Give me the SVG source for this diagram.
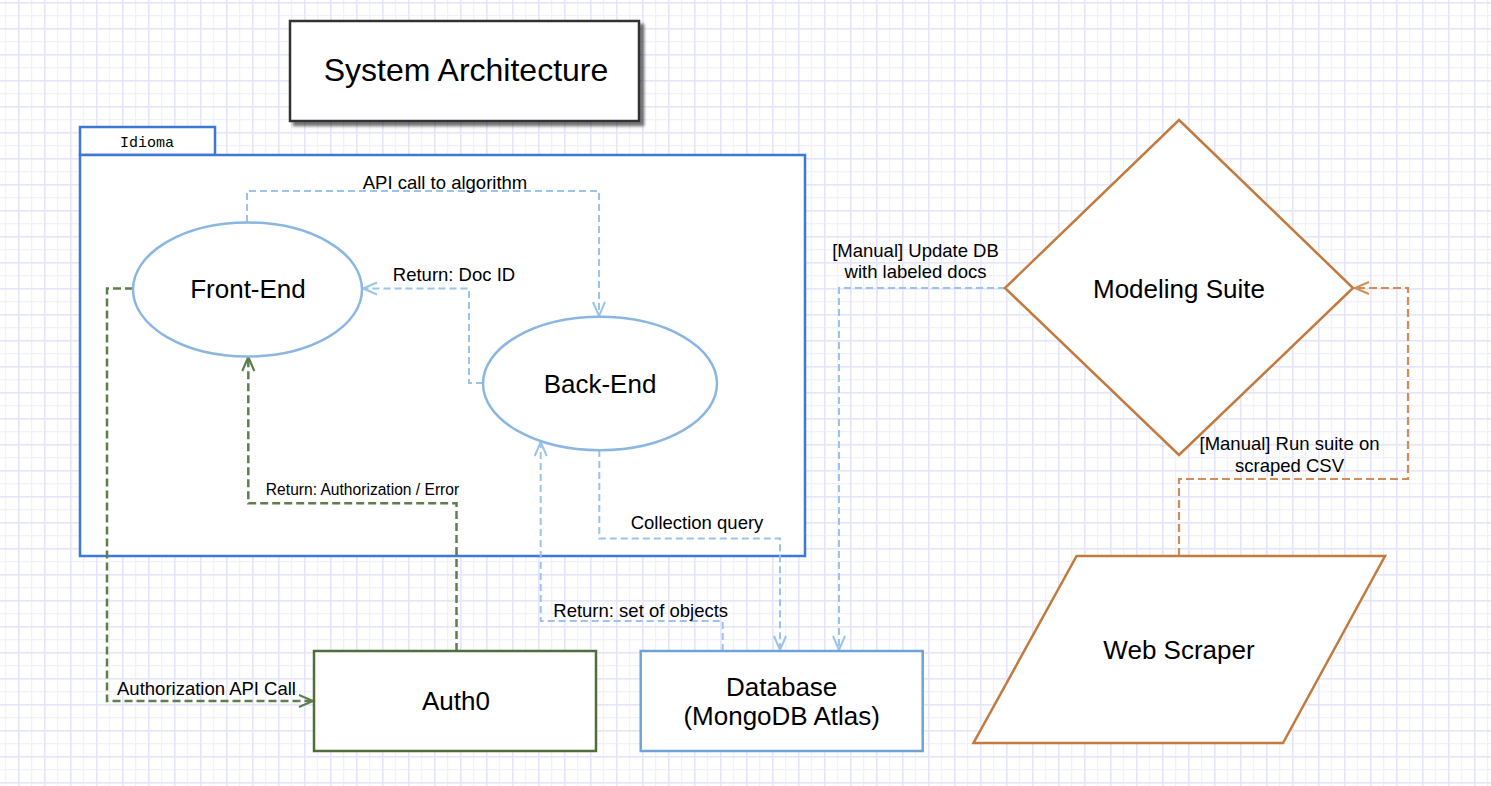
<svg xmlns="http://www.w3.org/2000/svg" width="1491" height="786" viewBox="0 0 1491 786">
<defs>
<pattern id="grid" width="26" height="26" patternUnits="userSpaceOnUse" x="18" y="2">
<rect width="26" height="26" fill="#ffffff"/>
<rect x="13" y="0" width="1.2" height="26" fill="#f1f1fd"/>
<rect x="0" y="13" width="26" height="1.2" fill="#f1f1fd"/>
<rect x="0" y="0" width="1.6" height="26" fill="#e5e5fb"/>
<rect x="0" y="0" width="26" height="1.6" fill="#e5e5fb"/>
</pattern>
<filter id="shadow" x="-10%" y="-10%" width="130%" height="140%">
<feDropShadow dx="4" dy="4" stdDeviation="1.8" flood-color="#000" flood-opacity="0.55"/>
</filter>
<marker id="arrB" markerWidth="18" markerHeight="16" refX="16" refY="8" orient="auto" markerUnits="userSpaceOnUse"><path d="M2,2 L16,8 L2,14" fill="none" stroke="#9cc3ea" stroke-width="2"/></marker>
<marker id="arrG" markerWidth="18" markerHeight="16" refX="16" refY="8" orient="auto" markerUnits="userSpaceOnUse"><path d="M2,2 L16,8 L2,14" fill="none" stroke="#5e7f4c" stroke-width="2.2"/></marker>
<marker id="arrO" markerWidth="18" markerHeight="16" refX="16" refY="8" orient="auto" markerUnits="userSpaceOnUse"><path d="M2,2 L16,8 L2,14" fill="none" stroke="#d08d58" stroke-width="2"/></marker>
</defs>
<style>
text{font-family:"Liberation Sans",Arial,Helvetica,sans-serif;fill:#000}
.node{font-size:26px;text-anchor:middle}
.lbl{font-size:18.5px;text-anchor:middle}
.sm{font-size:15.6px;text-anchor:middle}
.title{font-size:32px;text-anchor:middle}
.mono{font-family:"Liberation Mono","Courier New",monospace;font-size:15px;text-anchor:middle}
.cb{fill:none;stroke:#9cc3ea;stroke-width:2;stroke-dasharray:7 4;marker-end:url(#arrB)}
.cg{fill:none;stroke:#5e7f4c;stroke-width:2.5;stroke-dasharray:8 4;marker-end:url(#arrG)}
.co{fill:none;stroke:#d08d58;stroke-width:2.2;stroke-dasharray:8 4;marker-end:url(#arrO)}
.ell{fill:#fff;stroke:#8bb6e2;stroke-width:2.5}
</style>
<rect width="1491" height="786" fill="url(#grid)"/>

<g id="title">
<rect x="290" y="21" width="349" height="100" fill="#fff" stroke="#333" stroke-width="2.5" filter="url(#shadow)"/>
<text class="title" x="466" y="81">System Architecture</text>
</g>

<g id="idioma">
<rect x="80" y="127" width="135" height="28" fill="#fff" stroke="#3d78d8" stroke-width="2.5"/>
<text class="mono" x="147" y="147">Idioma</text>
<rect x="80" y="155" width="725" height="401" fill="#fff" stroke="#3d78d8" stroke-width="2.5"/>
</g>

<g id="connectors">
<path class="cb" d="M247,222 V191 H599 V316"/>
<path class="cb" d="M483,383 H469 V288.5 H363"/>
<path class="cb" d="M599.3,450 V538.5 H780 V650"/>
<path class="cb" d="M722.7,651 V621 H540.7 V442"/>
<path class="cb" d="M1005,288 H839 V650"/>
<path class="cg" d="M133,288.5 H107 V701 H313"/>
<path class="cg" d="M456.5,651 V503.3 H248.3 V357"/>
<path class="co" d="M1179,556 V479 H1408 V288 H1355"/>
<text class="lbl" x="445" y="189">API call to algorithm</text>
<text class="lbl" x="454" y="281">Return: Doc ID</text>
<text class="sm" x="362.5" y="495">Return: Authorization / Error</text>
<text class="lbl" x="206.5" y="695">Authorization API Call</text>
<text class="lbl" x="697" y="529">Collection query</text>
<text class="lbl" x="640.7" y="617">Return: set of objects</text>
<text class="lbl" x="915.5" y="257">[Manual] Update DB</text>
<text class="lbl" x="915.5" y="278">with labeled docs</text>
<text class="lbl" x="1289.5" y="450">[Manual] Run suite on</text>
<text class="lbl" x="1289.5" y="471.5">scraped CSV</text>
</g>

<g id="frontend">
<ellipse class="ell" cx="247.5" cy="289.5" rx="114.5" ry="67"/>
<text class="node" x="248" y="298">Front-End</text>
</g>

<g id="backend">
<ellipse class="ell" cx="600" cy="383.5" rx="117" ry="66.7"/>
<text class="node" x="600" y="393">Back-End</text>
</g>

<g id="auth0">
<rect x="314" y="651" width="282" height="100" fill="#fff" stroke="#4f6e3a" stroke-width="2.5"/>
<text class="node" x="456" y="710">Auth0</text>
</g>

<g id="database">
<rect x="640.7" y="651" width="282" height="100" fill="#fff" stroke="#6fa3d6" stroke-width="2.5"/>
<text class="node" x="781.7" y="696">Database</text>
<text class="node" x="781.7" y="725">(MongoDB Atlas)</text>
</g>

<g id="modeling">
<polygon points="1179,120 1353,288 1179,455 1005,288" fill="#fff" stroke="#c27a3e" stroke-width="2.5"/>
<text class="node" x="1179" y="298">Modeling Suite</text>
</g>

<g id="scraper">
<polygon points="1076.6,556 1385,556 1283,743 973.5,743" fill="#fff" stroke="#c27a3e" stroke-width="2.5"/>
<text class="node" x="1179" y="659">Web Scraper</text>
</g>
</svg>
